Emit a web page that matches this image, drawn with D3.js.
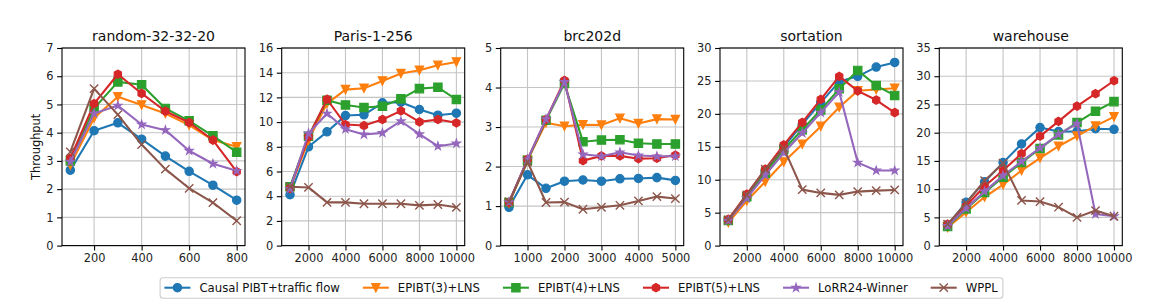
<!DOCTYPE html>
<html><head><meta charset="utf-8">
<script src="https://cdn.jsdelivr.net/npm/d3@7"></script>
<style>
html,body{margin:0;padding:0;background:#fff;}
svg{display:block;font-family:"DejaVu Sans",sans-serif;}
</style></head>
<body><svg id="chart" width="1163" height="301"></svg>
<script>
// ---------- DATA ----------
const titles = ["random-32-32-20", "Paris-1-256", "brc202d", "sortation", "warehouse"];
const seriesNames = ["Causal PIBT+traffic flow", "EPIBT(3)+LNS", "EPIBT(4)+LNS", "EPIBT(5)+LNS", "LoRR24-Winner", "WPPL"];
const yLabel = "Throughput";

const xRandom = [100, 200, 300, 400, 500, 600, 700, 800];
const xParis = [1000, 2000, 3000, 4000, 5000, 6000, 7000, 8000, 9000, 10000];
const xBrc = [500, 1000, 1500, 2000, 2500, 3000, 3500, 4000, 4500, 5000];
const xSortation = [1000, 2000, 3000, 4000, 5000, 6000, 7000, 8000, 9000, 10000];
const xWarehouse = [1000, 2000, 3000, 4000, 5000, 6000, 7000, 8000, 9000, 10000];

const xTicksRandom = [200, 400, 600, 800];
const xTicksParis = [2000, 4000, 6000, 8000, 10000];
const xTicksBrc = [1000, 2000, 3000, 4000, 5000];
const xTicksSortation = [2000, 4000, 6000, 8000, 10000];
const xTicksWarehouse = [2000, 4000, 6000, 8000, 10000];

const yTicksRandom = [0, 1, 2, 3, 4, 5, 6, 7];
const yTicksParis = [0, 2, 4, 6, 8, 10, 12, 14, 16];
const yTicksBrc = [0, 1, 2, 3, 4, 5];
const yTicksSortation = [0, 5, 10, 15, 20, 25, 30];
const yTicksWarehouse = [0, 5, 10, 15, 20, 25, 30, 35];

// random-32-32-20
const randomCausal = [2.67, 4.07, 4.35, 3.77, 3.17, 2.63, 2.14, 1.61];
const randomEpibt3 = [2.85, 4.52, 5.27, 4.98, 4.68, 4.27, 3.74, 3.5];
const randomEpibt4 = [3.0, 4.86, 5.8, 5.7, 4.86, 4.42, 3.89, 3.31];
const randomEpibt5 = [3.1, 5.03, 6.07, 5.39, 4.76, 4.36, 3.74, 2.62];
const randomLorr = [2.97, 4.68, 4.96, 4.29, 4.09, 3.36, 2.9, 2.65];
const randomWppl = [3.32, 5.56, 4.64, 3.58, 2.71, 2.03, 1.52, 0.88];

// Paris-1-256
const parisCausal = [4.12, 8.0, 9.21, 10.53, 10.59, 11.56, 11.61, 11.02, 10.56, 10.72];
const parisEpibt3 = [4.63, 8.54, 11.5, 12.63, 12.74, 13.33, 13.93, 14.2, 14.6, 14.87];
const parisEpibt4 = [4.77, 8.86, 11.77, 11.39, 11.18, 11.29, 11.88, 12.71, 12.82, 11.83];
const parisEpibt5 = [4.63, 8.81, 11.85, 9.8, 9.72, 10.21, 10.91, 10.02, 10.21, 9.94];
const parisLorr = [4.6, 9.08, 10.69, 9.43, 9.0, 9.13, 10.07, 9.02, 8.05, 8.27];
const parisWppl = [4.77, 4.71, 3.5, 3.5, 3.39, 3.39, 3.39, 3.26, 3.33, 3.1];

// brc202d
const brcCausal = [0.97, 1.79, 1.45, 1.63, 1.66, 1.63, 1.69, 1.70, 1.72, 1.65];
const brcEpibt3 = [1.07, 2.16, 3.11, 3.02, 3.06, 3.05, 3.22, 3.09, 3.2, 3.19];
const brcEpibt4 = [1.09, 2.16, 3.17, 4.1, 2.63, 2.67, 2.68, 2.59, 2.57, 2.57];
const brcEpibt5 = [1.09, 2.18, 3.19, 4.18, 2.15, 2.27, 2.27, 2.2, 2.21, 2.29];
const brcLorr = [1.1, 2.18, 3.2, 4.14, 2.31, 2.26, 2.36, 2.28, 2.26, 2.26];
const brcWppl = [1.11, 2.12, 1.09, 1.1, 0.92, 0.97, 1.02, 1.13, 1.24, 1.19];

// sortation
const sortationCausal = [3.8, 7.5, 11.3, 15.0, 18.4, 21.7, 24.9, 25.7, 27.1, 27.8];
const sortationEpibt3 = [3.5, 6.8, 9.7, 12.7, 15.4, 18.1, 21.0, 23.5, 23.7, 23.9];
const sortationEpibt4 = [3.8, 7.4, 11.0, 14.6, 17.6, 20.6, 23.8, 26.6, 24.3, 22.8];
const sortationEpibt5 = [4.0, 7.8, 11.6, 15.3, 18.7, 22.2, 25.7, 23.5, 22.1, 20.2];
const sortationLorr = [3.8, 7.2, 10.7, 14.1, 17.1, 20.2, 23.3, 12.6, 11.4, 11.4];
const sortationWppl = [3.9, 7.7, 11.6, 14.8, 8.5, 8.0, 7.7, 8.2, 8.35, 8.45];

// warehouse
const warehouseCausal = [3.65, 7.66, 11.3, 14.7, 18.0, 20.9, 20.2, 20.2, 20.7, 20.6];
const warehouseEpibt3 = [3.2, 5.9, 8.6, 10.8, 13.3, 15.5, 17.6, 19.4, 21.2, 22.8];
const warehouseEpibt4 = [3.4, 6.5, 9.4, 12.1, 14.7, 17.2, 19.6, 21.8, 23.8, 25.5];
const warehouseEpibt5 = [3.8, 7.0, 10.5, 13.3, 16.3, 19.4, 22.0, 24.7, 26.9, 29.2];
const warehouseLorr = [3.5, 6.6, 9.6, 12.4, 14.9, 17.3, 19.7, 21.6, 5.6, 5.2];
const warehouseWppl = [3.8, 7.5, 11.5, 14.6, 8.0, 7.8, 6.8, 5.0, 6.2, 5.2];

// ---------- STYLE ----------
const colors = ["#1f77b4", "#ff7f0e", "#2ca02c", "#d62728", "#9467bd", "#8c564b"];
const markers = ["circle", "triangleDown", "square", "hexagon", "star", "x"];

const panels = [
  {title: titles[0], x: xRandom, xTicks: xTicksRandom, yTicks: yTicksRandom,
   series: [randomCausal, randomEpibt3, randomEpibt4, randomEpibt5, randomLorr, randomWppl]},
  {title: titles[1], x: xParis, xTicks: xTicksParis, yTicks: yTicksParis,
   series: [parisCausal, parisEpibt3, parisEpibt4, parisEpibt5, parisLorr, parisWppl]},
  {title: titles[2], x: xBrc, xTicks: xTicksBrc, yTicks: yTicksBrc,
   series: [brcCausal, brcEpibt3, brcEpibt4, brcEpibt5, brcLorr, brcWppl]},
  {title: titles[3], x: xSortation, xTicks: xTicksSortation, yTicks: yTicksSortation,
   series: [sortationCausal, sortationEpibt3, sortationEpibt4, sortationEpibt5, sortationLorr, sortationWppl]},
  {title: titles[4], x: xWarehouse, xTicks: xTicksWarehouse, yTicks: yTicksWarehouse,
   series: [warehouseCausal, warehouseEpibt3, warehouseEpibt4, warehouseEpibt5, warehouseLorr, warehouseWppl]}
];

const svg = d3.select("#chart");
svg.append("rect").attr("width", 1163).attr("height", 301).attr("fill", "#fff");

const plotTop = 48, plotBottom = 245.6, plotW = 183;
const lefts = [62, 281.7, 500.7, 720, 939.3];
const MS = 8.33; // marker size px
const r = MS / 2;

function markerPath(type) {
  const p = d3.path();
  if (type === "circle") {
    p.moveTo(r, 0); p.arc(0, 0, r, 0, 2 * Math.PI); p.closePath();
  } else if (type === "triangleDown") {
    p.moveTo(0, r); p.lineTo(-r, -r); p.lineTo(r, -r); p.closePath();
  } else if (type === "square") {
    p.rect(-r, -r, 2 * r, 2 * r);
  } else if (type === "hexagon") {
    for (let k = 0; k < 6; k++) {
      const a = -Math.PI / 2 + k * Math.PI / 3;
      const px = r * Math.cos(a), py = r * Math.sin(a);
      k === 0 ? p.moveTo(px, py) : p.lineTo(px, py);
    }
    p.closePath();
  } else if (type === "star") {
    const ri = r * 0.381966;
    for (let k = 0; k < 10; k++) {
      const a = -Math.PI / 2 + k * Math.PI / 5;
      const rr = k % 2 === 0 ? r : ri;
      const px = rr * Math.cos(a), py = rr * Math.sin(a);
      k === 0 ? p.moveTo(px, py) : p.lineTo(px, py);
    }
    p.closePath();
  } else if (type === "x") {
    p.moveTo(-r, -r); p.lineTo(r, r); p.moveTo(-r, r); p.lineTo(r, -r);
  }
  return p.toString();
}

function drawMarker(g, type, color, x, y) {
  const m = g.append("path").attr("d", markerPath(type))
    .attr("transform", `translate(${x},${y})`);
  if (type === "x") {
    m.attr("fill", "none").attr("stroke", color).attr("stroke-width", 1.4);
  } else {
    m.attr("fill", color).attr("stroke", color).attr("stroke-width", 1.2).attr("stroke-linejoin", "miter");
  }
}

panels.forEach((pn, i) => {
  const left = lefts[i];
  const xmin = d3.min(pn.x), xmax = d3.max(pn.x);
  const pad = (xmax - xmin) * 0.05;
  const xs = d3.scaleLinear().domain([xmin - pad, xmax + pad]).range([left, left + plotW]);
  const ys = d3.scaleLinear().domain([0, d3.max(pn.yTicks)]).range([plotBottom, plotTop]);
  const g = svg.append("g");

  // grid
  g.append("g").selectAll("line").data(pn.xTicks).join("line")
    .attr("x1", d => xs(d)).attr("x2", d => xs(d))
    .attr("y1", plotTop).attr("y2", plotBottom)
    .attr("stroke", "#c4c4c4").attr("stroke-width", 1.1);
  g.append("g").selectAll("line").data(pn.yTicks).join("line")
    .attr("x1", left).attr("x2", left + plotW)
    .attr("y1", d => ys(d)).attr("y2", d => ys(d))
    .attr("stroke", "#c4c4c4").attr("stroke-width", 1.1);

  // series
  const clipId = "clip" + i;
  svg.append("clipPath").attr("id", clipId).append("rect")
    .attr("x", left - 6).attr("y", plotTop - 6).attr("width", plotW + 12).attr("height", plotBottom - plotTop + 12);
  const sg = g.append("g").attr("clip-path", `url(#${clipId})`);
  pn.series.forEach((vals, s) => {
    const line = d3.line().x((d, k) => xs(pn.x[k])).y(d => ys(d));
    sg.append("path").datum(vals).attr("d", line)
      .attr("fill", "none").attr("stroke", colors[s]).attr("stroke-width", 2.08)
      .attr("stroke-linejoin", "round").attr("stroke-linecap", "butt");
    vals.forEach((v, k) => drawMarker(sg, markers[s], colors[s], xs(pn.x[k]), ys(v)));
  });

  // axes
  const xAxis = d3.axisBottom(xs).tickValues(pn.xTicks).tickSize(4.9).tickPadding(3.6).tickFormat(d3.format("d"));
  const yAxis = d3.axisLeft(ys).tickValues(pn.yTicks).tickSize(4.9).tickPadding(3.6).tickFormat(d3.format("d"));
  const gx = g.append("g").attr("transform", `translate(0,${plotBottom})`).call(xAxis);
  const gy = g.append("g").attr("transform", `translate(${left},0)`).call(yAxis);
  [gx, gy].forEach(ax => {
    ax.select(".domain").remove();
    ax.selectAll("line").attr("stroke", "#000").attr("stroke-width", 1.1);
    ax.selectAll("text").attr("fill", "#222").style("font-size", "11.4px").style("font-family", "DejaVu Sans");
  });
  // spines
  g.append("rect").attr("x", left).attr("y", plotTop).attr("width", plotW).attr("height", plotBottom - plotTop)
    .attr("fill", "none").attr("stroke", "#000").attr("stroke-width", 1.1);

  // title
  g.append("text").attr("x", left + plotW / 2).attr("y", 40.7).attr("text-anchor", "middle")
    .style("font-size", "14px").attr("fill", "#111").text(pn.title);

  if (i === 0) {
    g.append("text").attr("transform", `translate(40,${(plotTop + plotBottom) / 2}) rotate(-90)`)
      .attr("text-anchor", "middle").style("font-size", "11.4px").attr("fill", "#111").text(yLabel);
  }
});

// ---------- LEGEND ----------
const lg = svg.append("g");
const box = lg.append("rect").attr("rx", 3).attr("ry", 3)
  .attr("fill", "#fff").attr("fill-opacity", 0.8).attr("stroke", "#cccccc").attr("stroke-width", 1.1);
const handleLen = 26, handleGap = 9, colSpace = 23, padL = 4.3, padR = 5;
const items = [];
let cx = 0;
seriesNames.forEach((name, s) => {
  const ig = lg.append("g");
  const t = ig.append("text").style("font-size", "11.7px").attr("fill", "#111").text(name);
  const w = t.node().getComputedTextLength();
  items.push({ig, t, w, s});
});
const totalW = padL + d3.sum(items, d => handleLen + handleGap + d.w) + colSpace * (items.length - 1) + padR;
const boxX = 581.5 - totalW / 2;
const legY = 287.7;
cx = boxX + padL;
items.forEach(it => {
  it.ig.append("line").attr("x1", cx).attr("x2", cx + handleLen).attr("y1", legY).attr("y2", legY)
    .attr("stroke", colors[it.s]).attr("stroke-width", 2.08);
  drawMarker(it.ig, markers[it.s], colors[it.s], cx + handleLen / 2, legY);
  it.t.attr("x", cx + handleLen + handleGap).attr("y", legY + 4.2);
  cx += handleLen + handleGap + it.w + colSpace;
});
box.attr("x", boxX).attr("y", 277.7).attr("width", totalW).attr("height", 20.5);
</script>
</body></html>
